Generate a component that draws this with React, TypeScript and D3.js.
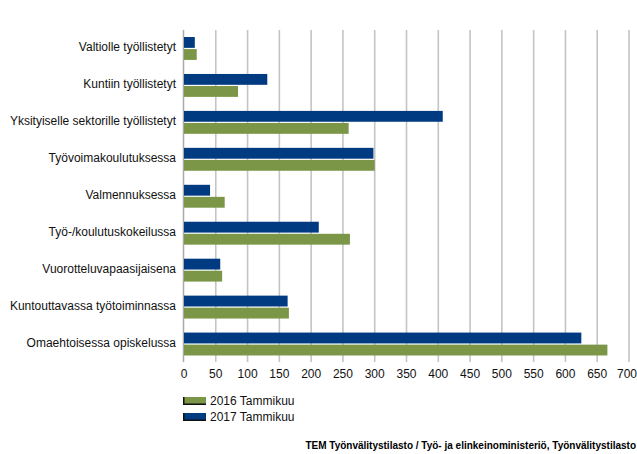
import * as d3 from "d3";
import React, {useEffect, useRef} from "react";

const categories = [
  "Valtiolle työllistetyt",
  "Kuntiin työllistetyt",
  "Yksityiselle sektorille työllistetyt",
  "Työvoimakoulutuksessa",
  "Valmennuksessa",
  "Työ-/koulutuskokeilussa",
  "Vuorotteluvapaasijaisena",
  "Kuntouttavassa työtoiminnassa",
  "Omaehtoisessa opiskelussa",
];
const values2017 = [17, 131, 407, 298, 41, 212, 57, 163, 625];
const values2016 = [20, 85, 259, 300, 64, 261, 60, 165, 666];
const seriesNames = ["2016 Tammikuu", "2017 Tammikuu"];
const xTicks = [0, 50, 100, 150, 200, 250, 300, 350, 400, 450, 500, 550, 600, 650, 700];
const source = "TEM Työnvälitystilasto / Työ- ja elinkeinoministeriö, Työnvälitystilasto";

const BLUE = "#003a80";
const GREEN = "#7a9646";

const App: React.FC = () => {
  const ref = useRef<SVGSVGElement | null>(null);

  useEffect(() => {
    const width = 637;
    const height = 454;
    const margin = {top: 30, right: 8, bottom: 92, left: 184};
    const svg = d3.select(ref.current);
    svg.selectAll("*").remove();
    svg.attr("width", width).attr("height", height);

    const font = "'Liberation Sans', Arial, sans-serif";

    const x = d3.scaleLinear().domain([0, 700]).range([margin.left, 629]);
    const y = d3
      .scaleBand()
      .domain(categories)
      .range([margin.top, height - margin.bottom + 0.5])
      .paddingInner(0.38)
      .paddingOuter(0.19);
    const inner = d3
      .scaleBand()
      .domain(["2017", "2016"])
      .range([0, y.bandwidth()])
      .paddingInner(0.1);

    // grid lines
    svg
      .append("g")
      .selectAll("line")
      .data(xTicks.slice(1))
      .enter()
      .append("line")
      .attr("x1", (d) => x(d))
      .attr("x2", (d) => x(d))
      .attr("y1", margin.top)
      .attr("y2", 362)
      .attr("stroke", "#c4c4c4")
      .attr("stroke-width", 1.6);

    // vertical axis line
    svg
      .append("line")
      .attr("x1", x(0) - 0.5)
      .attr("x2", x(0) - 0.5)
      .attr("y1", margin.top)
      .attr("y2", 362)
      .attr("stroke", "#aaaaaa")
      .attr("stroke-width", 1.5);

    const rows = categories.map((c, i) => ({c, v17: values2017[i], v16: values2016[i]}));
    const groups = svg
      .selectAll(".bar-group")
      .data(rows)
      .enter()
      .append("g")
      .attr("class", "bar-group")
      .attr("transform", (d) => `translate(0, ${y(d.c)})`);

    groups
      .append("rect")
      .attr("x", x(0))
      .attr("y", inner("2017")!)
      .attr("width", (d) => x(d.v17) - x(0))
      .attr("height", inner.bandwidth())
      .attr("fill", BLUE);

    groups
      .append("rect")
      .attr("x", x(0))
      .attr("y", inner("2016")!)
      .attr("width", (d) => x(d.v16) - x(0))
      .attr("height", inner.bandwidth())
      .attr("fill", GREEN);

    // category labels
    svg
      .append("g")
      .selectAll("text")
      .data(categories)
      .enter()
      .append("text")
      .attr("x", 176)
      .attr("y", (d) => y(d)! + y.bandwidth() / 2 + 2.5)
      .attr("text-anchor", "end")
      .attr("font-family", font)
      .attr("font-size", "12px")
      .attr("fill", "#111")
      .text((d) => d);

    // x tick labels
    svg
      .append("g")
      .selectAll("text")
      .data(xTicks)
      .enter()
      .append("text")
      .attr("x", (d) => Math.min(x(d), 627))
      .attr("y", 378)
      .attr("text-anchor", "middle")
      .attr("font-family", font)
      .attr("font-size", "12px")
      .attr("fill", "#111")
      .text((d) => d);

    // legend
    const legend = svg
      .append("g")
      .selectAll("g")
      .data(seriesNames)
      .enter()
      .append("g")
      .attr("transform", (d, i) => `translate(183, ${397 + i * 16})`);
    legend
      .append("rect")
      .attr("width", 23)
      .attr("height", 8)
      .attr("fill", (d, i) => (i === 0 ? GREEN : BLUE));
    legend
      .append("path")
      .attr("d", "M0.75,0 V7.25 H23")
      .attr("fill", "none")
      .attr("stroke", "#111")
      .attr("stroke-width", 1.5);
    legend
      .append("text")
      .attr("x", 27)
      .attr("y", 8)
      .attr("font-family", font)
      .attr("font-size", "12px")
      .attr("fill", "#111")
      .text((d) => d);

    svg
      .append("text")
      .attr("x", 636)
      .attr("y", 449)
      .attr("text-anchor", "end")
      .attr("font-family", font)
      .attr("font-size", "10px")
      .attr("font-weight", "bold")
      .attr("fill", "#000")
      .text(source);

    return () => {
      svg.selectAll("*").remove();
    };
  }, []);

  return (
    <svg
      ref={ref}
      style={{position: "absolute", left: 0, top: 0, display: "block", background: "#fff"}}
    />
  );
};

export default App;
